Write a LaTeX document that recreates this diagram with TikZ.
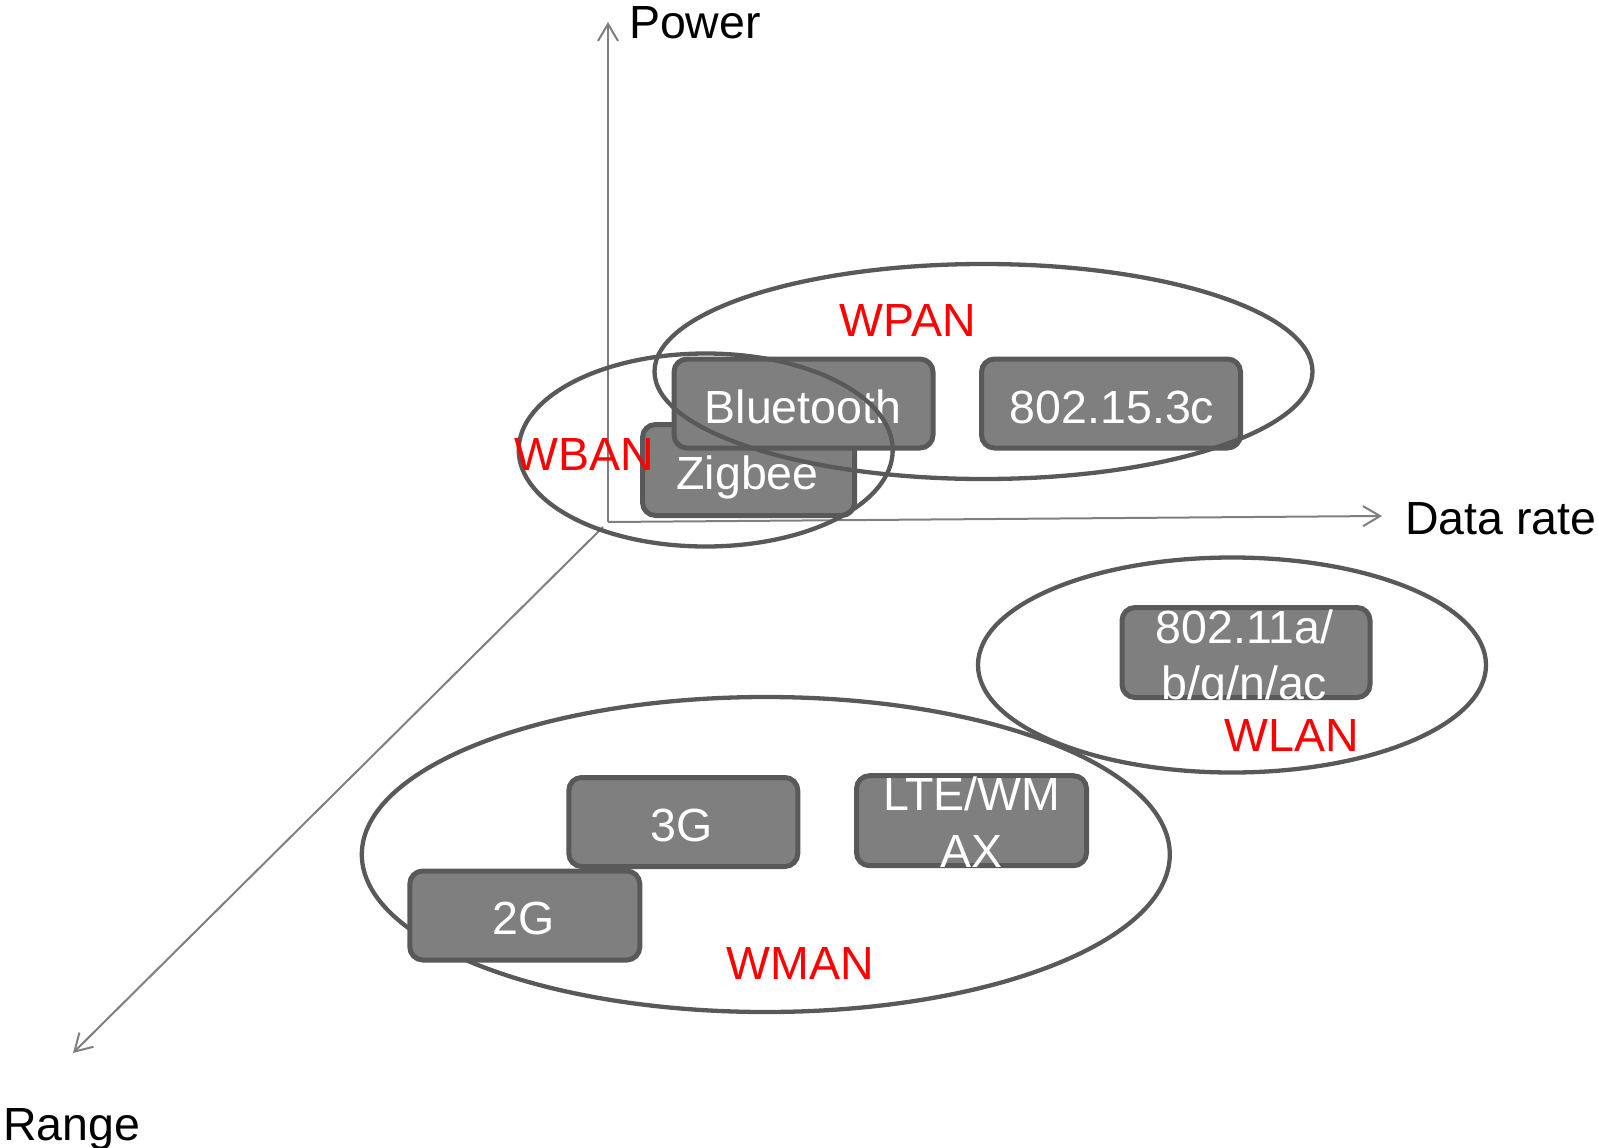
\documentclass[tikz,border=0pt]{standalone}
\usepackage{fontspec}
\setmainfont{Liberation Sans}
\usetikzlibrary{shapes.geometric,arrows.meta}
\definecolor{boxfill}{HTML}{7F7F7F}
\definecolor{edgegray}{HTML}{595959}
\definecolor{axisgray}{HTML}{7F7F7F}
\definecolor{labred}{HTML}{FF0000}
\begin{document}
\begin{tikzpicture}[x=1pt,y=-1pt,
  every node/.style={font=\fontsize{46.5}{57}\selectfont, inner sep=0pt, outer sep=0pt},
  axisline/.style={draw=axisgray, line width=2pt, -{Straight Barb[length=17pt,width=20pt,line width=2pt]}},
  techbox/.style={rectangle, rounded corners=13pt, draw=edgegray, fill=boxfill, line width=5pt},
  boxtext/.style={anchor=base, text=white},
  netring/.style={ellipse, draw=edgegray, line width=4.3pt},
  netlabel/.style={anchor=base, text=labred},
  axislabel/.style={anchor=base west, text=black}]
\useasboundingbox (0,0) rectangle (1598,1148);

% axes
\coordinate (o) at (608,522);
\coordinate (odiag) at (603,527);
\coordinate (ptip) at (608,22);
\coordinate (dtip) at (1382,516);
\coordinate (rtip) at (73,1053);
\draw[axisline] (o) -- (ptip);
\draw[axisline] (o) -- (dtip);
\draw[axisline] (odiag) -- (rtip);
\node[axislabel] (power) at (629,39) {Power};
\node[axislabel] (datarate) at (1405,534.5) {Data rate};
\node[axislabel] (range) at (3,1140) {Range};

% WMAN group
\node[netring, minimum width=808pt, minimum height=315pt] (wman) at (765.8,854.5) {};
\node[techbox, minimum width=229pt, minimum height=89pt] (g3) at (683.3,822) {};
\node[boxtext] (g3t) at (682,841) {3G};
\node[techbox, minimum width=230pt, minimum height=90pt] (lte) at (971.5,820.7) {};
\node[boxtext] (ltet1) at (971.7,810) {LTE/WM};
\node[boxtext] (ltet2) at (971.7,867) {AX};
\node[techbox, minimum width=230pt, minimum height=89pt] (g2) at (524.8,915.5) {};
\node[boxtext] (g2t) at (524,934.5) {2G};

% WLAN group
\node[netring, minimum width=508pt, minimum height=215pt] (wlan) at (1232,665) {};
\node[techbox, minimum width=248pt, minimum height=90pt] (wifi) at (1246,652.5) {};
\node[boxtext] (wifit1) at (1244.5,643) {802.11a/};
\node[boxtext] (wifit2) at (1244.5,699) {b/g/n/ac};

% WPAN / WBAN group
\node[techbox, minimum width=212pt, minimum height=91pt] (zig) at (748.5,470) {};
\node[boxtext] (zigt) at (747.5,489) {Zigbee};
\node[techbox, minimum width=259pt, minimum height=89pt] (bt) at (803.5,403.5) {};
\node[boxtext] (btt) at (803,423) {Bluetooth};
\node[techbox, minimum width=259pt, minimum height=89pt] (uwb) at (1111,403.5) {};
\node[boxtext] (uwbt) at (1112,423) {802.15.3c};
\node[netring, minimum width=658pt, minimum height=215pt] (wpan) at (983.5,371.5) {};
\node[netring, minimum width=374pt, minimum height=193pt] (wban) at (705.7,450) {};

% network labels
\node[netlabel] (wpanl) at (908,336.3) {WPAN};
\node[netlabel] (wbanl) at (584,470.8) {WBAN};
\node[netlabel] (wlanl) at (1292,751) {WLAN};
\node[netlabel] (wmanl) at (800,979.5) {WMAN};
\end{tikzpicture}
\end{document}
